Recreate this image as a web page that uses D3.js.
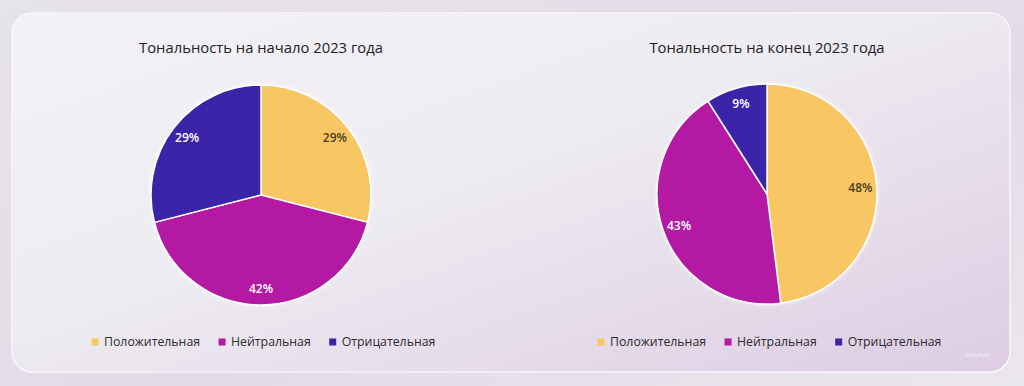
<!DOCTYPE html>
<html>
<head>
<meta charset="utf-8">
<script src="https://cdn.jsdelivr.net/npm/d3@7"></script>
<style>
  html, body { margin: 0; padding: 0; background: #e9e5ec; }
  svg { display: block; font-family: "Open Sans", "Noto Sans", sans-serif; }
</style>
</head>
<body>
<div id="chart"></div>
<script>
// Sentiment at start / end of 2023 — two pies
const categories = ["Положительная", "Нейтральная", "Отрицательная"];
const startValues = [29, 42, 29];
const endValues = [48, 43, 9];
const titles = ["Тональность на начало 2023 года", "Тональность на конец 2023 года"];
const colors = ["#f8c662", "#b419a3", "#3b24a8"];
const labelColors = ["#4a3d1c", "#ffffff", "#ffffff"];

(function () {
  const W = 1024, H = 386;
  const svg = d3.select("#chart").append("svg")
    .attr("width", W).attr("height", H)
    .attr("viewBox", `0 0 ${W} ${H}`);

  const defs = svg.append("defs");
  const bg = defs.append("linearGradient").attr("id", "bg")
    .attr("x1", "0").attr("y1", "0").attr("x2", "1").attr("y2", "1");
  bg.append("stop").attr("offset", "0%").attr("stop-color", "#e7e3ea");
  bg.append("stop").attr("offset", "60%").attr("stop-color", "#e4dbe8");
  bg.append("stop").attr("offset", "100%").attr("stop-color", "#ebe7ee");

  const card = defs.append("linearGradient").attr("id", "card")
    .attr("x1", "0").attr("y1", "0").attr("x2", "1").attr("y2", "1");
  card.append("stop").attr("offset", "0%").attr("stop-color", "#f3f2f6");
  card.append("stop").attr("offset", "45%").attr("stop-color", "#eeebf1");
  card.append("stop").attr("offset", "100%").attr("stop-color", "#ddcce3");

  const glow = defs.append("filter").attr("id", "glow")
    .attr("x", "-20%").attr("y", "-20%").attr("width", "140%").attr("height", "140%");
  glow.append("feDropShadow").attr("dx", 0).attr("dy", 0)
    .attr("stdDeviation", 2.5).attr("flood-color", "#ffffff").attr("flood-opacity", 0.9);

  svg.append("rect").attr("width", W).attr("height", H).attr("fill", "url(#bg)");
  svg.append("rect")
    .attr("x", 12).attr("y", 13).attr("width", 998).attr("height", 359)
    .attr("rx", 20)
    .attr("fill", "url(#card)")
    .attr("stroke", "#f7f6f9").attr("stroke-width", 1.5);

  const pie = d3.pie().sort(null).value(d => d.value);
  const R = 110;
  const arc = d3.arc().innerRadius(0).outerRadius(R);
  const labelArc = d3.arc().innerRadius(R * 0.85).outerRadius(R * 0.85);

  const panels = [
    { cx: 261, cy: 195, legendX: 95, values: startValues, title: titles[0] },
    { cx: 767, cy: 194, legendX: 601, values: endValues, title: titles[1] }
  ];

  panels.forEach(p => {
    const data = categories.map((c, i) => ({ cat: c, value: p.values[i], i }));

    svg.append("text")
      .attr("x", p.cx).attr("y", 53)
      .attr("text-anchor", "middle")
      .attr("font-size", "14.8px").attr("fill", "#222")
      .text(p.title);

    const g = svg.append("g").attr("transform", `translate(${p.cx},${p.cy})`);

    g.append("circle").attr("r", R).attr("fill", "#fff").attr("filter", "url(#glow)");

    g.selectAll("path")
      .data(pie(data))
      .join("path")
      .attr("d", arc)
      .attr("fill", d => colors[d.data.i])
      .attr("stroke", "#ffffff").attr("stroke-width", 1.5);

    g.selectAll("text.lbl")
      .data(pie(data))
      .join("text")
      .attr("class", "lbl")
      .attr("transform", d => `translate(${labelArc.centroid(d)})`)
      .attr("text-anchor", "middle")
      .attr("dy", "0.35em")
      .attr("font-size", "12px").attr("font-weight", 600)
      .attr("fill", d => labelColors[d.data.i])
      .text(d => d.data.value + "%");

    // Legend
    const leg = svg.append("g").attr("transform", `translate(${p.legendX},342)`);
    let x = 0;
    categories.forEach((c, i) => {
      leg.append("rect").attr("x", x - 3.5).attr("y", -3.5)
        .attr("width", 7).attr("height", 7).attr("fill", colors[i]);
      const t = leg.append("text").attr("x", x + 9).attr("y", 0).attr("dy", "0.35em")
        .attr("font-size", "12.3px").attr("fill", "#2c2c2c").text(c);
      x += 9 + t.node().getComputedTextLength() + 22;
    });
  });

  svg.append("text")
    .attr("x", 990).attr("y", 357).attr("text-anchor", "end")
    .attr("font-size", "6px").attr("fill", "#ffffff").attr("opacity", 0.7)
    .text("SnapEdit");
})();
</script>
</body>
</html>
